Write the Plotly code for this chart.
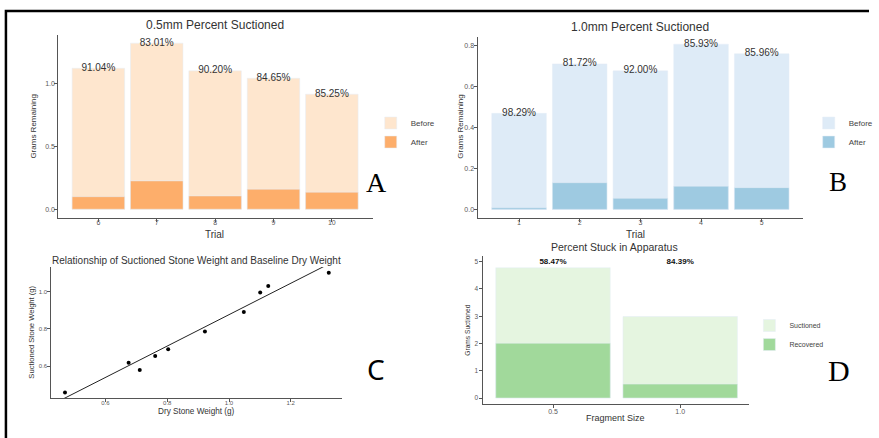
import plotly.graph_objects as go

W, H = 879, 438

# ---------------- data ----------------
trials_05 = [6, 7, 8, 9, 10]
before_05 = [1.125, 1.325, 1.104, 1.045, 0.918]
after_05 = [0.100, 0.226, 0.106, 0.160, 0.136]
labels_05 = ["91.04%", "83.01%", "90.20%", "84.65%", "85.25%"]

trials_10 = [1, 2, 3, 4, 5]
before_10 = [0.468, 0.709, 0.675, 0.805, 0.758]
after_10 = [0.008, 0.130, 0.054, 0.113, 0.106]
labels_10 = ["98.29%", "81.72%", "92.00%", "85.93%", "85.96%"]

dry_weight = [0.469, 0.675, 0.711, 0.761, 0.803, 0.922, 1.048, 1.101, 1.127, 1.323]
suct_weight = [0.459, 0.619, 0.580, 0.655, 0.691, 0.787, 0.891, 0.996, 1.030, 1.101]
fit_slope = 0.841
fit_intercept = 0.0356

frag_size = ["0.5", "1.0"]
suctioned = [4.78, 2.99]
recovered = [2.01, 0.51]
stuck_labels = ["58.47%", "84.39%"]
stuck_label_y = [5, 5]

# colours (ColorBrewer)
OR_LIGHT, OR_MID = "#FEE6CE", "#FDAE6B"
BL_LIGHT, BL_MID = "#DEEBF7", "#9ECAE1"
GR_LIGHT, GR_MID = "#E5F5E0", "#A1D99B"

FONT = "Liberation Sans, Arial, sans-serif"
TXT = "#333333"
TICK = "#5a5a5a"
AX = "#555555"


def px_x(p):
    return p / W


def px_y(p):
    return 1 - p / H


fig = go.Figure()

# ---- Panel A ----
fig.add_trace(go.Bar(x=trials_05, y=before_05, width=0.9, marker_color=OR_LIGHT,
                     name="Before", xaxis="x", yaxis="y", legend="legend"))
fig.add_trace(go.Bar(x=trials_05, y=after_05, width=0.9, marker_color=OR_MID,
                     name="After", xaxis="x", yaxis="y", legend="legend"))
fig.add_trace(go.Scatter(x=trials_05, y=before_05, text=labels_05, mode="text",
                         textfont=dict(size=10, color=TXT, family=FONT), showlegend=False,
                         cliponaxis=False, xaxis="x", yaxis="y"))

# ---- Panel B ----
fig.add_trace(go.Bar(x=trials_10, y=before_10, width=0.9, marker_color=BL_LIGHT,
                     name="Before", xaxis="x2", yaxis="y2", legend="legend2"))
fig.add_trace(go.Bar(x=trials_10, y=after_10, width=0.9, marker_color=BL_MID,
                     name="After", xaxis="x2", yaxis="y2", legend="legend2"))
fig.add_trace(go.Scatter(x=trials_10, y=before_10, text=labels_10, mode="text",
                         textfont=dict(size=10, color=TXT, family=FONT), showlegend=False,
                         cliponaxis=False, xaxis="x2", yaxis="y2"))

# ---- Panel C ----
xr_c = [0.425, 1.366]
fig.add_trace(go.Scatter(x=xr_c, y=[fit_intercept + fit_slope * v for v in xr_c],
                         mode="lines", line=dict(color="#222222", width=1),
                         showlegend=False, xaxis="x3", yaxis="y3"))
fig.add_trace(go.Scatter(x=dry_weight, y=suct_weight, mode="markers",
                         marker=dict(color="black", size=4), showlegend=False,
                         cliponaxis=False, xaxis="x3", yaxis="y3"))

# ---- Panel D ----
fig.add_trace(go.Bar(x=frag_size, y=suctioned, width=0.9, marker_color=GR_LIGHT,
                     name="Suctioned", xaxis="x4", yaxis="y4", legend="legend3"))
fig.add_trace(go.Bar(x=frag_size, y=recovered, width=0.9, marker_color=GR_MID,
                     name="Recovered", xaxis="x4", yaxis="y4", legend="legend3"))
fig.add_trace(go.Scatter(x=frag_size, y=stuck_label_y, text=stuck_labels, mode="text",
                         textfont=dict(size=8, color="#111111", family=FONT, weight="bold"),
                         showlegend=False, cliponaxis=False, xaxis="x4", yaxis="y4"))


def axis_style(domain, rng, tickfont_size=7, standoff=0, **kw):
    d = dict(domain=domain, range=rng, showline=True, linecolor=AX, linewidth=1,
             ticks="outside", ticklen=3, tickwidth=1, tickcolor=AX,
             ticklabelstandoff=standoff,
             tickfont=dict(size=tickfont_size, color=TICK, family=FONT),
             showgrid=False, zeroline=False, fixedrange=True)
    d.update(kw)
    return d


layout = dict(
    width=W, height=H, margin=dict(l=0, r=0, t=0, b=0),
    paper_bgcolor="white", plot_bgcolor="white", barmode="overlay",
    font=dict(family=FONT, color=TXT),
    xaxis=axis_style([px_x(59), px_x(377)], [5.314, 10.70], standoff=-5,
                     tickvals=trials_05, anchor="y"),
    yaxis=axis_style([px_y(218), px_y(35)], [-0.07, 1.39], standoff=-2,
                     tickvals=[0, 0.5, 1.0], tickformat=".1f", anchor="x"),
    xaxis2=axis_style([px_x(483), px_x(812)], [0.315, 5.677], standoff=-5,
                      tickvals=trials_10, anchor="y2"),
    yaxis2=axis_style([px_y(218), px_y(37)], [-0.042, 0.84], standoff=-2,
                      tickvals=[0, 0.2, 0.4, 0.6, 0.8], tickformat=".1f", anchor="x2"),
    xaxis3=axis_style([px_x(52), px_x(346)], [0.425, 1.366], tickfont_size=6, standoff=-4,
                      tickvals=[0.6, 0.8, 1.0, 1.2], tickformat=".1f", anchor="y3"),
    yaxis3=axis_style([px_y(398), px_y(267)], [0.430, 1.132], tickfont_size=6, standoff=-1,
                      tickvals=[0.6, 0.8, 1.0], tickformat=".1f", anchor="x3"),
    xaxis4=axis_style([px_x(489), px_x(758)], [-0.547, 1.544], type="category",
                      standoff=-2, anchor="y4"),
    yaxis4=axis_style([px_y(404), px_y(256)], [-0.22, 5.21], tickfont_size=6.5,
                      tickvals=[0, 1, 2, 3, 4, 5], anchor="x4"),
    legend=dict(x=px_x(375), y=px_y(132.5), xanchor="left", yanchor="middle",
                font=dict(size=8, color="#444444", family=FONT), bgcolor="rgba(0,0,0,0)"),
    legend2=dict(x=px_x(818), y=px_y(132.5), xanchor="left", yanchor="middle",
                 font=dict(size=8, color="#444444", family=FONT), bgcolor="rgba(0,0,0,0)"),
    legend3=dict(x=px_x(758), y=px_y(335), xanchor="left", yanchor="middle",
                 font=dict(size=7, color="#444444", family=FONT), bgcolor="rgba(0,0,0,0)"),
    showlegend=True,
)
fig.update_layout(**layout)


def ann(text, x, y, size, color=TXT, angle=0, family=FONT, **kw):
    fig.add_annotation(text=text, x=px_x(x), y=px_y(y), xref="paper", yref="paper",
                       showarrow=False, textangle=angle, xanchor="center", yanchor="middle",
                       font=dict(size=size, color=color, family=family), **kw)


# titles
ann("0.5mm Percent Suctioned", 217, 25, 12)
ann("1.0mm Percent Suctioned", 647, 27, 12)
ann("Relationship of Suctioned Stone Weight and Baseline Dry Weight", 199, 260, 10)
ann("Percent Stuck in Apparatus", 622, 247, 10.5)

# axis titles
ann("Trial", 217, 234, 10)
ann("Trial", 643, 234, 10)
ann("Grams Remaining", 33, 127, 8, angle=-90)
ann("Grams Remaining", 465, 127, 8, angle=-90)
ann("Dry Stone Weight (g)", 199, 411, 8.2)
ann("Suctioned Stone Weight (g)", 31, 332, 7.6, angle=-90)
ann("Fragment Size", 623, 418, 9)
ann("Grams Suctioned", 472, 330, 6.6, angle=-90)

# panel letters
SERIF = "Liberation Serif, Times New Roman, serif"
ann("A", 381, 182, 28, color="black", family=SERIF)
ann("B", 848, 182, 27, color="black", family=SERIF)
ann("C", 380, 369, 28, color="black", family="Noto Sans, sans-serif")
ann("D", 849, 370, 30, color="black", family=SERIF)

# frame (top + left)
fig.add_shape(type="path", xref="paper", yref="paper",
              path=f"M {px_x(6)},0 L {px_x(6)},{px_y(11)} L 1,{px_y(11)}",
              line=dict(color="black", width=2.5))

fig.write_html("out.html")
